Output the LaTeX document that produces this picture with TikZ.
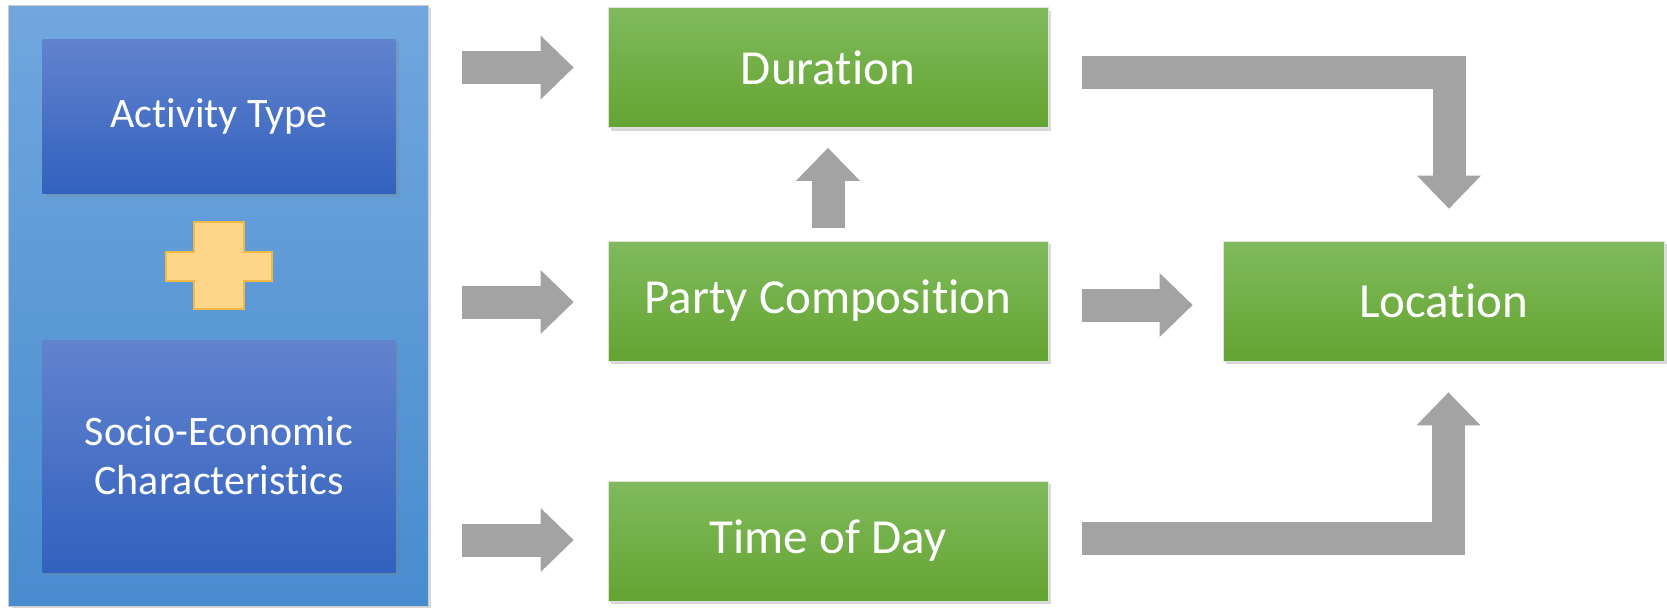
\documentclass[tikz,border=0pt]{standalone}
\usepackage{fontspec}
\setmainfont{Carlito}[Ligatures={NoCommon}]
\usetikzlibrary{arrows.meta,calc,shadows}
\definecolor{panelTop}{RGB}{112,167,222}
\definecolor{panelBot}{RGB}{72,140,207}
\definecolor{blueTop}{RGB}{98,131,206}
\definecolor{blueBot}{RGB}{50,97,190}
\definecolor{greenTop}{RGB}{128,186,92}
\definecolor{greenBot}{RGB}{100,164,50}
\definecolor{arrowGray}{RGB}{163,163,163}
\definecolor{plusFill}{RGB}{255,214,138}
\definecolor{plusEdge}{RGB}{240,185,70}
\begin{document}
\begin{tikzpicture}[x=0.5pt,y=-0.5pt,
  softshadow/.style={drop shadow={shadow xshift=1.5pt,shadow yshift=-1.5pt,opacity=0.3}},
  panelbox/.style={inner sep=0pt, top color=panelTop, bottom color=panelBot, draw=black!20, line width=0.4pt, softshadow},
  bluebox/.style={inner sep=0pt, minimum width=176.5pt, top color=blueTop, bottom color=blueBot, text=white, align=center, font=\fontsize{21}{24.5}\selectfont, softshadow},
  greenbox/.style={inner sep=0pt, minimum width=220pt, minimum height=60pt, top color=greenTop, bottom color=greenBot, draw=black!12, line width=0.4pt, text=white, font=\fontsize{24.5}{29}\selectfont, softshadow},
  plusshape/.style={fill=plusFill, draw=plusEdge, line width=0.8pt},
  blockarrow/.style={draw=arrowGray, line width=16.5pt, line join=miter, -{Triangle[length=16.5pt,width=32pt,line width=0pt]}}
]
\useasboundingbox (0,0) rectangle (1667,607);
\fill[white] (0,0) rectangle (1667,607);

\node[panelbox, minimum width=209.75pt, minimum height=300.5pt] (panel) at (218.25,305.5) {};
\node[bluebox, minimum height=77.25pt] (act) at (219,116.25) {\raisebox{-1.5pt}{Activity Type}};
\node[bluebox, minimum height=116pt] (soc) at (219,456) {Socio-Economic\\Characteristics};
\draw[plusshape] (194,222) -- (244,222) -- (244,252) -- (272,252) -- (272,281) -- (244,281) -- (244,309) -- (194,309) -- (194,281) -- (166,281) -- (166,252) -- (194,252) -- cycle;

\node[greenbox] (dur) at (828,67.5) {Duration};
\node[greenbox] (party) at (828,301) {\raisebox{-1.5pt}{Party Composition}};
\node[greenbox] (tod) at (828,541) {\raisebox{-2pt}{Time of Day}};
\node[greenbox, minimum width=220.5pt] (loc) at (1443.5,301) {\raisebox{-1pt}{Location}};

\draw[blockarrow] ($(panel.east|-dur.center)+(34,0)$) -- ($(dur.west)+(-34,0)$);
\draw[blockarrow] ($(panel.east|-party.center)+(34,1)$) -- ($(party.west)+(-34,1)$);
\draw[blockarrow] ($(panel.east|-tod.center)+(34,-1)$) -- ($(tod.west)+(-34,-1)$);
\draw[blockarrow] ($(party.north)+(0,-13)$) -- ($(dur.south)+(0,20)$);
\draw[blockarrow] ($(party.east)+(34,4)$) -- ($(loc.west)+(-30,4)$);
\draw[blockarrow] ($(dur.east)+(34,5)$) -| ($(loc.north)+(5.5,-32)$);
\draw[blockarrow] ($(tod.east)+(34,-3)$) -| ($(loc.south)+(5,31)$);
\end{tikzpicture}
\end{document}
